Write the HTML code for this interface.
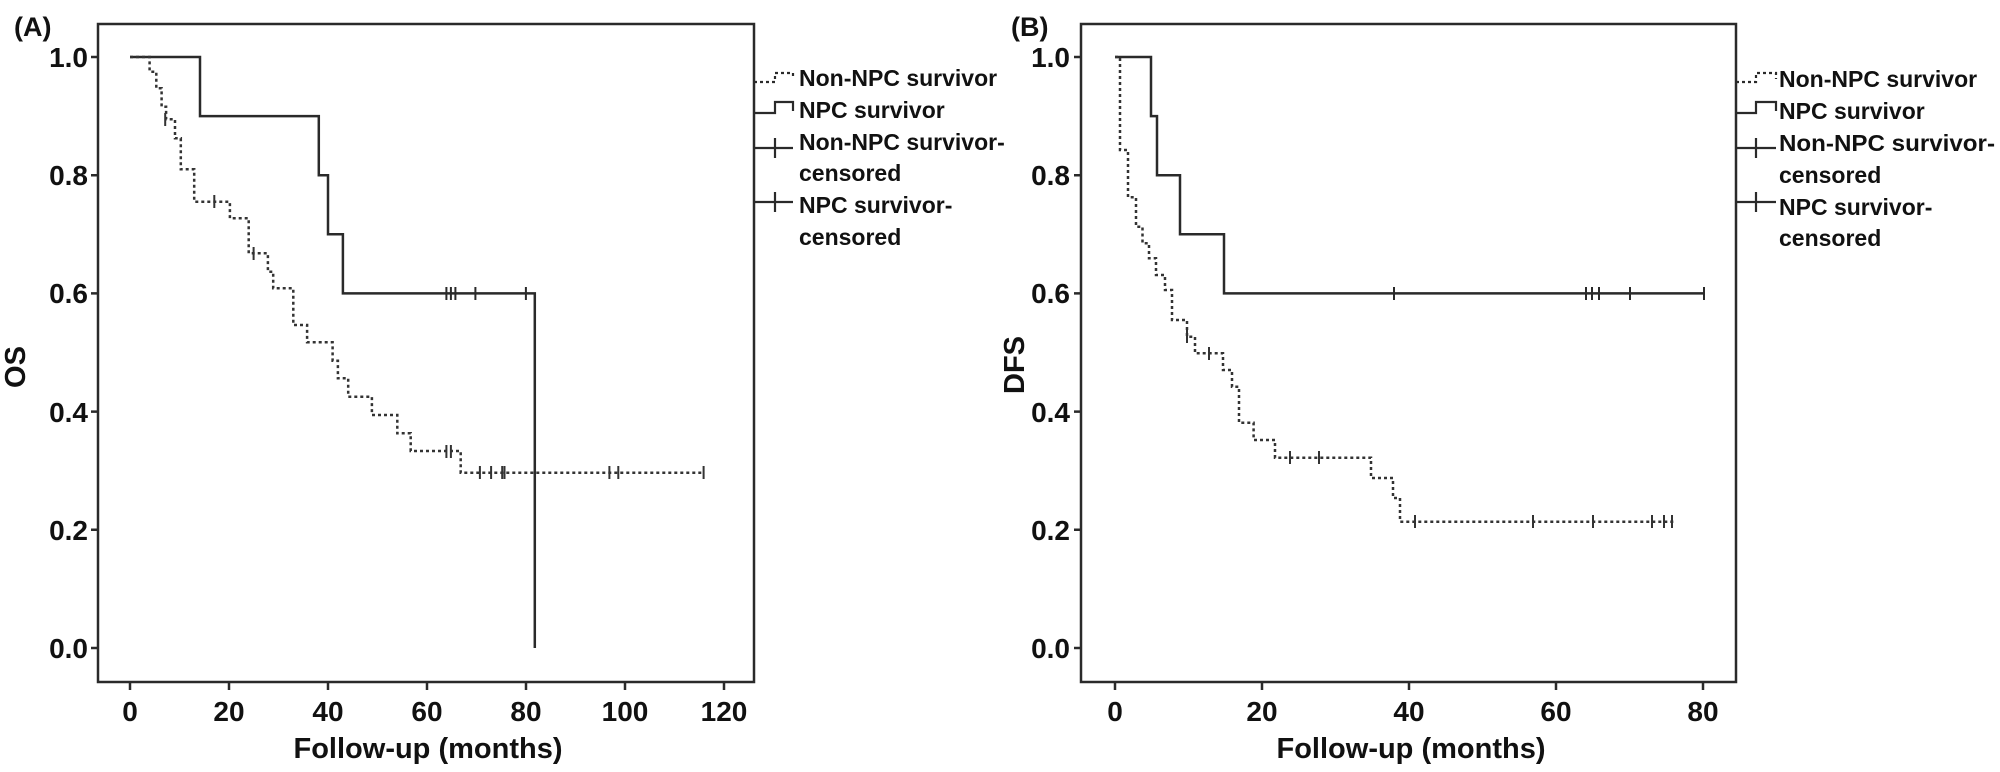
<!DOCTYPE html>
<html><head><meta charset="utf-8"><style>
html,body{margin:0;padding:0;background:#fff;}
svg{display:block;}
text{font-family:"Liberation Sans",Arial,sans-serif;font-weight:bold;fill:#111;}
</style></head><body>
<svg width="2000" height="772" viewBox="0 0 2000 772" xmlns="http://www.w3.org/2000/svg">
<g stroke="#2a2a2a" fill="none" stroke-width="2.5">
<rect x="98" y="24" width="656" height="658"/>
<rect x="1081" y="24" width="655" height="658"/>
<path d="M91 57H98M91 175.2H98M91 293.4H98M91 411.6H98M91 529.8H98M91 648H98"/>
<path d="M130 682V690M229 682V690M328 682V690M427 682V690M526 682V690M625 682V690M724 682V690"/>
<path d="M1074 57H1081M1074 175.2H1081M1074 293.4H1081M1074 411.6H1081M1074 529.8H1081M1074 648H1081"/>
<path d="M1115 682V690M1262 682V690M1409 682V690M1556 682V690M1703 682V690"/>
</g>

<g stroke="#2a2a2a" fill="none" stroke-width="2.5">
<path d="M130 57H200V116.1H318.8V175.2H328V234.3H342.9V293.4H534.8V648"/>
<path d="M446.4 287v13M450.9 287v13M455.4 287v13M475.4 287v13M525.9 287v13" stroke-width="2"/>
</g>
<g stroke="#333" fill="none" stroke-width="2.5">
<path stroke-dasharray="3 3" d="M130 57H149.6V71.7H156.3V88.3H161.6V106.7H166.1V119.3H175V138.3H180.8V169.3H194.2V201.7H229.9V218.3H248.7V253.3H267.9V271.7H273.2V288.3H293.3V325H307.1V342.3H332.6V360.7H337.9V378.3H348.2V396.7H371.9V415H397.3V433.3H410.7V451H460.7V472.7H703.6"/>
<path stroke-width="2" d="M165.2 113v13M214.3 195v13M253.6 247v13M446.4 445v13M450.9 445v13M479.9 466v13M491.1 466v13M502.2 466v13M504.5 466v13M609.4 466v13M618.3 466v13M703.6 466v13"/>
</g>

<g stroke="#2a2a2a" fill="none" stroke-width="2.5">
<path d="M1115 57H1151V116.1H1157V175.2H1180V234.3H1224V293.4H1704"/>
<path stroke-width="2" d="M1394 287v13M1586 287v13M1592 287v13M1599 287v13M1630 287v13M1704 287v13"/>
</g>
<g stroke="#333" fill="none" stroke-width="2.5">
<path stroke-dasharray="3 3" d="M1115 57H1120V150H1128V197.3H1136V226.7H1142.5V243.3H1149V258.3H1156V275H1165V290H1172V320H1187V336.7H1195V353.3H1223V370H1232V386.7H1239V422.7H1253.6V440H1275V457.7H1371V478H1393V498H1400V521.7H1676"/>
<path stroke-width="2" d="M1187 330v13M1209 347v13M1290 451v13M1319 451v13M1415 515v13M1533 515v13M1593 515v13M1652 515v13M1664 515v13M1672 515v13"/>
</g>

<g stroke="#2a2a2a" fill="none" stroke-width="2.2">
<path stroke-dasharray="3 3" d="M754 82H775V73H793V79"/>
<path d="M754 113H775V102H793V111"/>
<path d="M754 148H793M775 138V158"/>
<path d="M754 202H793M775 192V212"/>
<path stroke-dasharray="3 3" d="M1736 82H1756V73H1776V79"/>
<path d="M1736 113H1756V102H1776V111"/>
<path d="M1736 148H1776M1756 138V158"/>
<path d="M1736 202H1776M1756 192V212"/>
</g>
<g font-size="23">
<text x="799" y="86">Non-NPC survivor</text>
<text x="799" y="118">NPC survivor</text>
<text x="799" y="150">Non-NPC survivor-</text>
<text x="799" y="181">censored</text>
<text x="799" y="213">NPC survivor-</text>
<text x="799" y="245">censored</text>
<text x="1779" y="87">Non-NPC survivor</text>
<text x="1779" y="119">NPC survivor</text>
<text x="1779" y="151" textLength="216" lengthAdjust="spacingAndGlyphs">Non-NPC survivor-</text>
<text x="1779" y="183">censored</text>
<text x="1779" y="215">NPC survivor-</text>
<text x="1779" y="246">censored</text>
</g>

<text x="14" y="36" font-size="27">(A)</text>
<text x="1011" y="36" font-size="27">(B)</text>

<g font-size="28" text-anchor="end">
<text x="88" y="67">1.0</text>
<text x="88" y="185">0.8</text>
<text x="88" y="303">0.6</text>
<text x="88" y="422">0.4</text>
<text x="88" y="540">0.2</text>
<text x="88" y="658">0.0</text>
<text x="1070" y="67">1.0</text>
<text x="1070" y="185">0.8</text>
<text x="1070" y="303">0.6</text>
<text x="1070" y="422">0.4</text>
<text x="1070" y="540">0.2</text>
<text x="1070" y="658">0.0</text>
</g>
<g font-size="28" text-anchor="middle">
<text x="130" y="721">0</text>
<text x="229" y="721">20</text>
<text x="328" y="721">40</text>
<text x="427" y="721">60</text>
<text x="526" y="721">80</text>
<text x="625" y="721">100</text>
<text x="724" y="721">120</text>
<text x="1115" y="721">0</text>
<text x="1262" y="721">20</text>
<text x="1409" y="721">40</text>
<text x="1556" y="721">60</text>
<text x="1703" y="721">80</text>
</g>
<g font-size="29" text-anchor="middle">
<text x="428" y="758">Follow-up (months)</text>
<text x="1411" y="758">Follow-up (months)</text>
<text transform="translate(25,367) rotate(-90)">OS</text>
<text transform="translate(1024,365) rotate(-90)">DFS</text>
</g>
</svg>
</body></html>
